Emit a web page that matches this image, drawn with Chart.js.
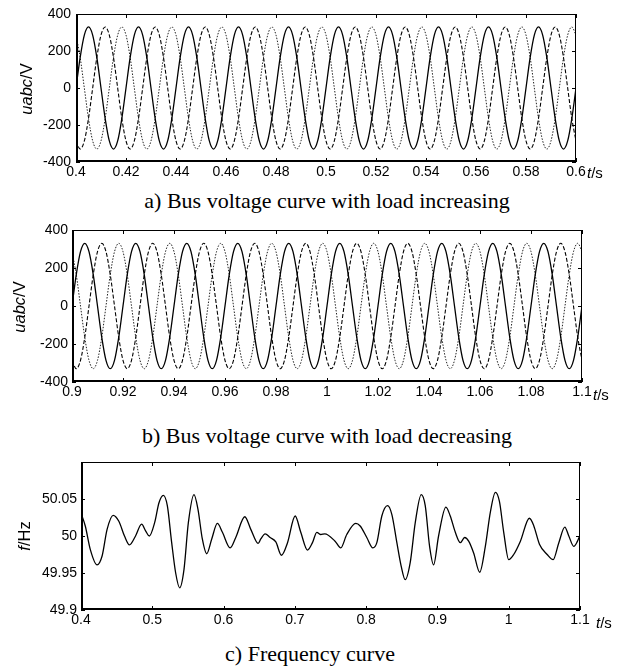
<!DOCTYPE html>
<html>
<head>
<meta charset="utf-8">
<script src="https://cdn.jsdelivr.net/npm/chart.js@4.4.1/dist/chart.umd.min.js"></script>
<style>
html,body{margin:0;padding:0;background:#fff;}
body{width:619px;height:669px;position:relative;overflow:hidden;font-family:"Liberation Sans",Arial,sans-serif;color:#000;}
canvas{position:absolute;left:0;}
.cap{position:absolute;font-family:"Liberation Serif","Times New Roman",serif;font-size:22px;line-height:22px;white-space:nowrap;transform:translateX(-50%);}
.ylab{position:absolute;font-size:16.5px;line-height:16px;white-space:nowrap;transform:translate(-50%,-50%) rotate(-90deg);}
.tl{position:absolute;font-size:15px;line-height:15px;white-space:nowrap;transform:translateY(-50%);}
</style>
</head>
<body>
<canvas id="ca" width="619" height="188" style="top:0px"></canvas>
<canvas id="cb" width="619" height="192" style="top:216px"></canvas>
<canvas id="cc" width="619" height="188" style="top:448px"></canvas>

<div class="ylab" style="left:26px;top:89px"><i>uabc</i>/V</div>
<div class="ylab" style="left:19px;top:307px"><i>uabc</i>/V</div>
<div class="ylab" style="left:24px;top:536px"><i>f</i>/Hz</div>

<div class="tl" style="left:587px;top:172px"><i>t</i>/s</div>
<div class="tl" style="left:593px;top:394px"><i>t</i>/s</div>
<div class="tl" style="left:596px;top:622px"><i>t</i>/s</div>

<div class="cap" style="left:327px;top:190px">a) Bus voltage curve with load increasing</div>
<div class="cap" style="left:327px;top:425px">b) Bus voltage curve with load decreasing</div>
<div class="cap" style="left:310px;top:643px">c) Frequency curve</div>

<script>
// ---------- panel a: time grid (s) and three phase voltages (V) ----------
const tA = [0.4,0.40167,0.40333,0.405,0.40667,0.40833,0.41,0.41167,0.41333,0.415,0.41667,0.41833,
0.42,0.42167,0.42333,0.425,0.42667,0.42833,0.43,0.43167,0.43333,0.435,0.43667,0.43833,
0.44,0.44167,0.44333,0.445,0.44667,0.44833,0.45,0.45167,0.45333,0.455,0.45667,0.45833,
0.46,0.46167,0.46333,0.465,0.46667,0.46833,0.47,0.47167,0.47333,0.475,0.47667,0.47833,
0.48,0.48167,0.48333,0.485,0.48667,0.48833,0.49,0.49167,0.49333,0.495,0.49667,0.49833,
0.5,0.50167,0.50333,0.505,0.50667,0.50833,0.51,0.51167,0.51333,0.515,0.51667,0.51833,
0.52,0.52167,0.52333,0.525,0.52667,0.52833,0.53,0.53167,0.53333,0.535,0.53667,0.53833,
0.54,0.54167,0.54333,0.545,0.54667,0.54833,0.55,0.55167,0.55333,0.555,0.55667,0.55833,
0.56,0.56167,0.56333,0.565,0.56667,0.56833,0.57,0.57167,0.57333,0.575,0.57667,0.57833,
0.58,0.58167,0.58333,0.585,0.58667,0.58833,0.59,0.59167,0.59333,0.595,0.59667,0.59833,0.6];
const uaA = [0,165,286,330,286,165,0,-165,-286,-330,-286,-165,
0,165,286,330,286,165,0,-165,-286,-330,-286,-165,
0,165,286,330,286,165,0,-165,-286,-330,-286,-165,
0,165,286,330,286,165,0,-165,-286,-330,-286,-165,
0,165,286,330,286,165,0,-165,-286,-330,-286,-165,
0,165,286,330,286,165,0,-165,-286,-330,-286,-165,
0,165,286,330,286,165,0,-165,-286,-330,-286,-165,
0,165,286,330,286,165,0,-165,-286,-330,-286,-165,
0,165,286,330,286,165,0,-165,-286,-330,-286,-165,
0,165,286,330,286,165,0,-165,-286,-330,-286,-165,0];
const ubA = [-286,-330,-286,-165,0,165,286,330,286,165,0,-165,
-286,-330,-286,-165,0,165,286,330,286,165,0,-165,
-286,-330,-286,-165,0,165,286,330,286,165,0,-165,
-286,-330,-286,-165,0,165,286,330,286,165,0,-165,
-286,-330,-286,-165,0,165,286,330,286,165,0,-165,
-286,-330,-286,-165,0,165,286,330,286,165,0,-165,
-286,-330,-286,-165,0,165,286,330,286,165,0,-165,
-286,-330,-286,-165,0,165,286,330,286,165,0,-165,
-286,-330,-286,-165,0,165,286,330,286,165,0,-165,
-286,-330,-286,-165,0,165,286,330,286,165,0,-165,-286];
const ucA = [286,165,0,-165,-286,-330,-286,-165,0,165,286,330,
286,165,0,-165,-286,-330,-286,-165,0,165,286,330,
286,165,0,-165,-286,-330,-286,-165,0,165,286,330,
286,165,0,-165,-286,-330,-286,-165,0,165,286,330,
286,165,0,-165,-286,-330,-286,-165,0,165,286,330,
286,165,0,-165,-286,-330,-286,-165,0,165,286,330,
286,165,0,-165,-286,-330,-286,-165,0,165,286,330,
286,165,0,-165,-286,-330,-286,-165,0,165,286,330,
286,165,0,-165,-286,-330,-286,-165,0,165,286,330,
286,165,0,-165,-286,-330,-286,-165,0,165,286,330,286];

// ---------- panel b ----------
const tB = [0.9,0.90167,0.90333,0.905,0.90667,0.90833,0.91,0.91167,0.91333,0.915,0.91667,0.91833,
0.92,0.92167,0.92333,0.925,0.92667,0.92833,0.93,0.93167,0.93333,0.935,0.93667,0.93833,
0.94,0.94167,0.94333,0.945,0.94667,0.94833,0.95,0.95167,0.95333,0.955,0.95667,0.95833,
0.96,0.96167,0.96333,0.965,0.96667,0.96833,0.97,0.97167,0.97333,0.975,0.97667,0.97833,
0.98,0.98167,0.98333,0.985,0.98667,0.98833,0.99,0.99167,0.99333,0.995,0.99667,0.99833,
1,1.00167,1.00333,1.005,1.00667,1.00833,1.01,1.01167,1.01333,1.015,1.01667,1.01833,
1.02,1.02167,1.02333,1.025,1.02667,1.02833,1.03,1.03167,1.03333,1.035,1.03667,1.03833,
1.04,1.04167,1.04333,1.045,1.04667,1.04833,1.05,1.05167,1.05333,1.055,1.05667,1.05833,
1.06,1.06167,1.06333,1.065,1.06667,1.06833,1.07,1.07167,1.07333,1.075,1.07667,1.07833,
1.08,1.08167,1.08333,1.085,1.08667,1.08833,1.09,1.09167,1.09333,1.095,1.09667,1.09833,1.1];
const uaB = [0,165,286,330,286,165,0,-165,-286,-330,-286,-165,
0,165,286,330,286,165,0,-165,-286,-330,-286,-165,
0,165,286,330,286,165,0,-165,-286,-330,-286,-165,
0,165,286,330,286,165,0,-165,-286,-330,-286,-165,
0,165,286,330,286,165,0,-165,-286,-330,-286,-165,
0,165,286,330,286,165,0,-165,-286,-330,-286,-165,
0,165,286,330,286,165,0,-165,-286,-330,-286,-165,
0,165,286,330,286,165,0,-165,-286,-330,-286,-165,
0,165,286,330,286,165,0,-165,-286,-330,-286,-165,
0,165,286,330,286,165,0,-165,-286,-330,-286,-165,0];
const ubB = [-286,-330,-286,-165,0,165,286,330,286,165,0,-165,
-286,-330,-286,-165,0,165,286,330,286,165,0,-165,
-286,-330,-286,-165,0,165,286,330,286,165,0,-165,
-286,-330,-286,-165,0,165,286,330,286,165,0,-165,
-286,-330,-286,-165,0,165,286,330,286,165,0,-165,
-286,-330,-286,-165,0,165,286,330,286,165,0,-165,
-286,-330,-286,-165,0,165,286,330,286,165,0,-165,
-286,-330,-286,-165,0,165,286,330,286,165,0,-165,
-286,-330,-286,-165,0,165,286,330,286,165,0,-165,
-286,-330,-286,-165,0,165,286,330,286,165,0,-165,-286];
const ucB = [286,165,0,-165,-286,-330,-286,-165,0,165,286,330,
286,165,0,-165,-286,-330,-286,-165,0,165,286,330,
286,165,0,-165,-286,-330,-286,-165,0,165,286,330,
286,165,0,-165,-286,-330,-286,-165,0,165,286,330,
286,165,0,-165,-286,-330,-286,-165,0,165,286,330,
286,165,0,-165,-286,-330,-286,-165,0,165,286,330,
286,165,0,-165,-286,-330,-286,-165,0,165,286,330,
286,165,0,-165,-286,-330,-286,-165,0,165,286,330,
286,165,0,-165,-286,-330,-286,-165,0,165,286,330,
286,165,0,-165,-286,-330,-286,-165,0,165,286,330,286];

// ---------- panel c: frequency ----------
const tF = [0.4,0.406,0.413,0.4225,0.4296,0.4366,0.4451,0.4531,0.461,0.468,0.4765,0.485,0.4906,0.4958,
0.5033,0.5094,0.5155,0.5211,0.5272,0.5328,0.5384,0.5445,0.5506,0.5585,0.5641,0.5702,0.5763,0.5834,0.5913,0.5984,
0.6092,0.6171,0.6298,0.6382,0.6485,0.6522,0.6583,0.6653,0.6733,0.6812,0.6897,
0.7004,0.7083,0.7177,0.7247,0.7308,0.7364,0.742,0.7564,0.7644,0.7728,0.7855,0.7916,
0.8009,0.8094,0.815,0.822,0.83,0.8361,0.8431,0.8492,0.8548,0.8618,0.8689,0.8773,0.8829,0.889,0.8946,
0.9016,0.9119,0.918,0.9251,0.9321,0.9382,0.9438,0.9508,0.9593,0.9672,0.9742,0.9813,0.9869,0.993,
1.0,1.007,1.0164,1.029,1.0351,1.0431,1.0539,1.0623,1.0703,1.0787,1.0843,1.0913,1.096,1.1];
const fHz = [50.031,50.0135,49.982,49.961,49.973,50.009,50.028,50.020,50.000,49.988,50.000,50.016,50.007,50.000,
50.018,50.045,50.055,50.041,49.991,49.950,49.930,49.955,50.018,50.056,50.036,49.996,49.976,49.996,50.017,50.005,
49.984,49.998,50.026,50.009,49.990,49.996,50.003,49.998,49.992,49.974,49.991,
50.027,50.005,49.981,49.991,50.005,50.002,50.003,49.993,49.984,50.002,50.017,50.0135,
49.998,49.984,49.991,50.027,50.041,50.029,49.991,49.959,49.941,49.964,50.018,50.056,50.041,49.986,49.961,
50.000,50.039,50.027,50.005,49.991,49.998,49.993,49.977,49.951,49.986,50.032,50.059,50.047,50.005,
49.968,49.975,49.993,50.024,50.014,49.989,49.975,49.968,49.991,50.012,50.000,49.986,49.992,50.001];

// ---------- axis ticks ----------
const xTicksA = {min:0.4, max:0.6, step:0.02};
const xTicksB = {min:0.9, max:1.1, step:0.02};
const xTicksC = {min:0.4, max:1.1, step:0.1};
const yTicksU = {min:-400, max:400, step:200};
const yTicksF = {min:49.9, max:50.1, step:0.05};

const fmt = v => String(parseFloat(Number(v).toFixed(3)));
const tickFont = {family:'"Liberation Sans", Arial, sans-serif', size:14};

const framePlugin = {
  id:'frame',
  afterDatasetsDraw(chart){
    const {ctx, chartArea:a, scales:{x,y}} = chart;
    ctx.save();
    ctx.strokeStyle = '#000';
    const L = 4;
    ctx.lineWidth = 1;
    ctx.beginPath();
    x.ticks.forEach(t=>{
      const px = Math.round(x.getPixelForValue(t.value)) + 0.5;
      ctx.moveTo(px, a.bottom); ctx.lineTo(px, a.bottom - L);
      ctx.moveTo(px, a.top); ctx.lineTo(px, a.top + L);
    });
    y.ticks.forEach(t=>{
      const py = Math.round(y.getPixelForValue(t.value)) + 0.5;
      ctx.moveTo(a.left, py); ctx.lineTo(a.left + L, py);
      ctx.moveTo(a.right, py); ctx.lineTo(a.right - L, py);
    });
    ctx.stroke();
    ctx.beginPath();
    ctx.moveTo(a.left, a.top + 0.5); ctx.lineTo(a.right, a.top + 0.5);
    ctx.moveTo(a.right - 0.5, a.top); ctx.lineTo(a.right - 0.5, a.bottom);
    ctx.stroke();
    ctx.lineWidth = 2;
    ctx.beginPath();
    ctx.moveTo(a.left + 1, a.top); ctx.lineTo(a.left + 1, a.bottom);
    ctx.moveTo(a.left, a.bottom - 1); ctx.lineTo(a.right, a.bottom - 1);
    ctx.stroke();
    ctx.restore();
  }
};

function makeChart(id, labels, datasets, xt, yt, geom, yCb){
  return new Chart(document.getElementById(id), {
    type:'line',
    data:{labels, datasets},
    plugins:[framePlugin],
    options:{
      responsive:false, animation:false, devicePixelRatio:1, events:[],
      layout:{padding:{top:geom.top, right:geom.right, left:0, bottom:0}},
      plugins:{legend:{display:false}, tooltip:{enabled:false}},
      elements:{point:{radius:0}, line:{cubicInterpolationMode:'monotone', fill:false}},
      scales:{
        x:{type:'linear', min:xt.min, max:xt.max,
           grid:{display:false, drawTicks:false, tickLength:0}, border:{display:false},
           afterFit(s){ s.height = 26; },
           ticks:{stepSize:xt.step, autoSkip:false, maxRotation:0, padding:geom.xpad, color:'#000',
                  font:tickFont, callback:v=>fmt(v)}},
        y:{type:'linear', min:yt.min, max:yt.max,
           grid:{display:false, drawTicks:false, tickLength:0}, border:{display:false},
           afterFit(s){ s.width = geom.left; },
           ticks:{stepSize:yt.step, autoSkip:false, padding:geom.ypad, color:'#000',
                  font:tickFont, callback:yCb || (v=>fmt(v))}}
      }
    }
  });
}

function phases(ua, ub, uc){
  return [
    {data:ua, borderColor:'#000', borderWidth:1.3},
    {data:ub, borderColor:'#000', borderWidth:1.1, borderDash:[4,2]},
    {data:uc, borderColor:'#222', borderWidth:1, borderDash:[1.5,1.5]}
  ];
}

makeChart('ca', tA, phases(uaA, ubA, ucA), xTicksA, yTicksU, {top:14, right:43, left:76, xpad:2, ypad:5});
makeChart('cb', tB, phases(uaB, ubB, ucB), xTicksB, yTicksU, {top:14, right:37, left:72, xpad:2, ypad:4});
makeChart('cc', tF, [{data:fHz, borderColor:'#000', borderWidth:1.3}], xTicksC, yTicksF,
          {top:14, right:39, left:81, xpad:2, ypad:4},
          v => Math.abs(v - 50.1) < 1e-6 ? '' : fmt(v));
</script>
</body>
</html>
